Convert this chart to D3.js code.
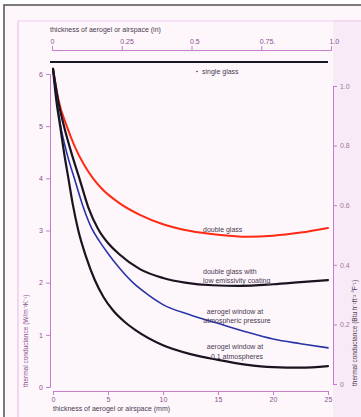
<!DOCTYPE html>
<html><head><meta charset="utf-8">
<script src="https://cdn.jsdelivr.net/npm/d3@7"></script>
<style>html,body{margin:0;padding:0;background:#fff;}svg{display:block;font-family:"Liberation Sans",Arial,sans-serif;}</style>
</head><body>
<script>
// thickness (mm) vs thermal conductance (W m^-2 K^-1)
const singleGlassMM = [0, 25];
const singleGlass = [6.55, 6.55];

const doubleGlassMM = [0, 0.5, 1.25, 2, 2.8, 3.64, 4.4, 6, 7.9, 10, 12.5, 15, 17.6, 20, 22.5, 25];
const doubleGlass   = [6.1, 5.5, 5.0, 4.6, 4.27, 4.0, 3.81, 3.53, 3.3, 3.12, 2.99, 2.92, 2.88, 2.9, 2.96, 3.05];

const lowEMM = [0, 0.5, 1.0, 1.7, 2.4, 3.2, 4.1, 5, 6, 7.9, 10, 12, 14.5, 17, 20, 22.5, 25];
const lowE   = [6.1, 5.45, 5.0, 4.47, 4.0, 3.45, 3.03, 2.76, 2.55, 2.26, 2.09, 2.0, 1.95, 1.94, 1.97, 2.01, 2.05];

const aeroAtmMM = [0, 0.3, 0.7, 1.3, 1.94, 2.7, 3.5, 4.2, 5, 6, 7.27, 8.5, 10, 12.5, 15, 17.5, 20, 22.5, 25];
const aeroAtm   = [6.1, 5.55, 5.0, 4.45, 4.0, 3.48, 3.05, 2.8, 2.56, 2.29, 2.0, 1.79, 1.58, 1.38, 1.22, 1.06, 0.92, 0.83, 0.75];

const aeroLowMM = [0, 0.3, 0.65, 1.0, 1.4, 1.8, 2.3, 3.0, 3.8, 4.6, 5.45, 6.5, 7.5, 10, 12.5, 15, 17.5, 20, 22.5, 25];
const aeroLow   = [6.1, 5.5, 5.0, 4.5, 4.0, 3.5, 3.0, 2.5, 2.05, 1.72, 1.47, 1.25, 1.09, 0.8, 0.63, 0.52, 0.43, 0.38, 0.37, 0.4];

const bottomTicks = [0, 5, 10, 15, 20, 25];
const topTicks = [0, 0.25, 0.5, 0.75, 1.0];
const topTickLabels = ["0", "0.25", "0.5", "0.75.", "1.0"];
const leftTicks = [0, 1, 2, 3, 4, 5, 6];
const rightTicks = [0, 0.2, 0.4, 0.6, 0.8, 1.0];
const rightTickLabels = ["0", "0.2", "0.4", "0.6", "0.8", "1.0"];

const W = 361, H = 417;
const svg = d3.select("body").append("svg").attr("width", W).attr("height", H);

// paper
svg.append("rect").attr("width", W).attr("height", H).attr("fill", "#ffffff");
svg.append("rect").attr("x", 4).attr("y", 5).attr("width", W).attr("height", H).attr("fill", "#fdf7fc")
  .attr("stroke", "#505050").attr("stroke-width", 1.5);
svg.append("rect").attr("x", 333).attr("y", 20).attr("width", 30).attr("height", H).attr("fill", "#f8eaf6");
svg.append("line").attr("x1", 18).attr("x2", 18).attr("y1", 21).attr("y2", H).attr("stroke", "#e6b6e6").attr("stroke-width", 1);
svg.append("line").attr("x1", 18).attr("x2", W).attr("y1", 21).attr("y2", 21).attr("stroke", "#eecbee").attr("stroke-width", 1);

const x = d3.scaleLinear().domain([0, 25]).range([53, 328]);
const xTop = d3.scaleLinear().domain([0, 1]).range([52, 331]);
const y = d3.scaleLinear().domain([0, 6]).range([387, 74]);
const yR = d3.scaleLinear().domain([0, 1]).range([384, 86]);

const axisCol = "#c77ccc", tickTextCol = "#8a4e8c", textCol = "#4a3a50";
function styleAxis(g) {
  g.selectAll("path.domain").attr("stroke", axisCol).attr("stroke-width", 1);
  g.selectAll(".tick line").attr("stroke", axisCol).attr("stroke-width", 1);
  g.selectAll(".tick text").attr("fill", tickTextCol).attr("font-size", 7).attr("font-family", "Liberation Sans, Arial, sans-serif");
}

// bottom axis
const gB = svg.append("g").attr("transform", "translate(0,391)")
  .call(d3.axisBottom(x).tickValues(bottomTicks).tickFormat(d3.format("d")).tickSizeOuter(0).tickSize(4).tickPadding(2));
styleAxis(gB);
svg.append("text").attr("x", 53).attr("y", 411).attr("font-size", 7).attr("fill", textCol)
  .text("thickness of aerogel or airspace (mm)");

// top axis
const gT = svg.append("g").attr("transform", "translate(0,50)")
  .call(d3.axisTop(xTop).tickValues(topTicks).tickFormat((d, i) => topTickLabels[i]).tickSizeOuter(0).tickSize(4).tickPadding(2));
styleAxis(gT);
gT.selectAll(".tick text").attr("text-anchor", "start").attr("dx", -2);
svg.append("text").attr("x", 50).attr("y", 32).attr("font-size", 7).attr("fill", textCol)
  .text("thickness of aerogel or airspace (in)");

// left axis
const gL = svg.append("g").attr("transform", "translate(50,0)")
  .call(d3.axisLeft(y).tickValues(leftTicks).tickFormat(d3.format("d")).tickSizeOuter(0).tickSize(4).tickPadding(3));
styleAxis(gL);
svg.append("text").attr("transform", "translate(28,387) rotate(-90)").attr("font-size", 6.5).attr("fill", tickTextCol)
  .text("thermal conductance (W/m⁻²K⁻¹)");

// right axis
const gR = svg.append("g").attr("transform", "translate(333,0)")
  .call(d3.axisRight(yR).tickValues(rightTicks).tickFormat((d, i) => rightTickLabels[i]).tickSizeOuter(0).tickSize(4).tickPadding(3));
styleAxis(gR);
gR.selectAll(".tick text").attr("fill", "#9a7a9a");
svg.append("text").attr("transform", "translate(357,386) rotate(-90)").attr("font-size", 6.5).attr("fill", textCol)
  .text("thermal conductance (Btu h⁻¹ft⁻² °F⁻¹)");

// curves
const line = d3.line().x(d => x(d[0])).y(d => y(d[1])).curve(d3.curveMonotoneX);
function draw(xs, ys, col, w) {
  svg.append("path").datum(xs.map((v, i) => [v, ys[i]])).attr("d", line)
    .attr("fill", "none").attr("stroke", col).attr("stroke-width", w).attr("stroke-linecap", "round");
}
svg.append("line").attr("x1", x(singleGlassMM[0]) - 3).attr("x2", x(singleGlassMM[1]))
  .attr("y1", 62).attr("y2", 62).attr("stroke", "#181828").attr("stroke-width", 2.2);
draw(doubleGlassMM, doubleGlass, "#ff2a14", 2);
draw(lowEMM, lowE, "#1a1420", 2.2);
draw(aeroAtmMM, aeroAtm, "#2a34a8", 1.6);
draw(aeroLowMM, aeroLow, "#1a1420", 2.2);

// labels
const lab = (tx, ty, s, anchor) => svg.append("text").attr("x", tx).attr("y", ty).attr("font-size", 7)
  .attr("fill", textCol).attr("text-anchor", anchor || "start").text(s);
svg.append("circle").attr("cx", 197).attr("cy", 71.5).attr("r", 0.8).attr("fill", textCol);
lab(202, 74, "single glass");
lab(203, 232, "double glass");
lab(203, 273.5, "double glass with");
lab(203, 283, "low emissivity coating");
lab(235, 313.5, "aerogel window at", "middle");
lab(237, 323, "atmospheric pressure", "middle");
lab(235, 349, "aerogel window at", "middle");
lab(237, 358.5, "0.1 atmospheres", "middle");
</script>
</body></html>
